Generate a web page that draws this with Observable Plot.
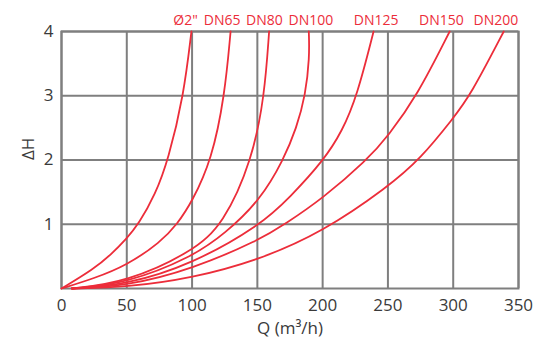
<!DOCTYPE html>
<html>
<head>
<meta charset="utf-8">
<script src="https://cdn.jsdelivr.net/npm/d3@7"></script>
<script src="https://cdn.jsdelivr.net/npm/@observablehq/plot@0.6"></script>
<style>
  html, body { margin: 0; padding: 0; background: #fff; }
</style>
</head>
<body>
<div id="chart"></div>
<script>
// Series names (curve labels)
const seriesNames = ["Ø2\"", "DN65", "DN80", "DN100", "DN125", "DN150", "DN200"];

// Flow Q (m³/h) and head loss ΔH readings per series
const q_phi2  = [0, 25, 37.5, 50, 59, 72, 81.7, 93.6, 99.5];
const h_phi2  = [0, 0.31, 0.52, 0.78, 1, 1.47, 2, 3, 4];

const q_dn65  = [0, 24.7, 50, 75.8, 88.6, 100, 115, 125, 129.5];
const h_dn65  = [0, 0.155, 0.36, 0.72, 1, 1.35, 2, 3, 4];

const q_dn80  = [8, 50, 100, 124, 146, 155.5, 159];
const h_dn80  = [0, 0.1, 0.57, 1, 2, 3, 4];

const q_dn100 = [8, 50, 100, 125, 152, 170, 180, 186.8, 190, 189.4];
const h_dn100 = [0, 0.08, 0.49, 0.85, 1.37, 2, 2.5, 3, 3.6, 4];

const q_dn125 = [8, 50, 100, 152, 175, 201, 215, 226.4, 239];
const h_dn125 = [0, 0.06, 0.38, 0.98, 1.42, 2, 2.45, 3, 4];

const q_dn150 = [8, 50, 100, 152, 171, 200, 234, 250, 272.4, 297.3];
const h_dn150 = [0, 0.04, 0.3, 0.76, 1, 1.4, 2, 2.37, 3, 4];

const q_dn200 = [8, 50, 100, 152, 200, 250, 275, 300, 313, 338.7];
const h_dn200 = [0, 0.02, 0.16, 0.45, 0.88, 1.58, 2.02, 2.65, 3, 4];

// Where each curve label sits along Q (above the top of the chart)
const labelQ = [95, 123, 155.4, 191, 241, 291, 332.7];

// Axis ticks
const xTicks = [0, 50, 100, 150, 200, 250, 300, 350];
const yTicks = [1, 2, 3, 4];

const seriesQ = [q_phi2, q_dn65, q_dn80, q_dn100, q_dn125, q_dn150, q_dn200];
const seriesH = [h_phi2, h_dn65, h_dn80, h_dn100, h_dn125, h_dn150, h_dn200];

const rows = [];
seriesNames.forEach((name, i) => {
  seriesQ[i].forEach((q, j) => rows.push({series: name, q, h: seriesH[i][j]}));
});
const labels = seriesNames.map((name, i) => ({name, q: labelQ[i], h: 4}));

const RED = "#ec2d3a";
const GRID = "#7f7f7f";
const INK = "#3a3a3a";
const FONT = "Open Sans, sans-serif";

const chart = Plot.plot({
  width: 545,
  height: 345,
  marginLeft: 61,
  marginRight: 27,
  marginTop: 31,
  marginBottom: 57,
  style: {fontFamily: FONT, fontSize: "17px", color: INK, background: "#fff", overflow: "visible"},
  x: {domain: [0, 350], label: null},
  y: {domain: [0, 4], label: null},
  marks: [
    Plot.gridX(xTicks, {stroke: GRID, strokeOpacity: 1, strokeWidth: 2}),
    Plot.gridY(yTicks, {stroke: GRID, strokeOpacity: 1, strokeWidth: 2}),
    Plot.frame({stroke: GRID, strokeWidth: 2}),
    Plot.line(rows, {x: "q", y: "h", z: "series", stroke: RED, strokeWidth: 1.8, curve: "basis"}),
    Plot.axisX(xTicks, {tickSize: 0, tickPadding: 10, fontSize: 17, fill: INK, label: null, tickFormat: d3.format("d")}),
    Plot.axisY(yTicks, {tickSize: 0, tickPadding: 8, fontSize: 17, fill: INK, label: null, tickFormat: d3.format("d")}),
    Plot.text(labels, {x: "q", y: "h", text: "name", dy: -11, lineAnchor: "middle", fill: RED, fontSize: 14, fontFamily: FONT}),
    Plot.text(["Q (m³/h)"], {frameAnchor: "bottom", dy: 40, lineAnchor: "middle", fontSize: 17, fill: INK, fontFamily: FONT}),
    Plot.text(["ΔH"], {frameAnchor: "left", dx: -33, rotate: -90, lineAnchor: "middle", fontSize: 17, fill: INK, fontFamily: FONT})
  ]
});

document.getElementById("chart").appendChild(chart);
</script>
</body>
</html>
